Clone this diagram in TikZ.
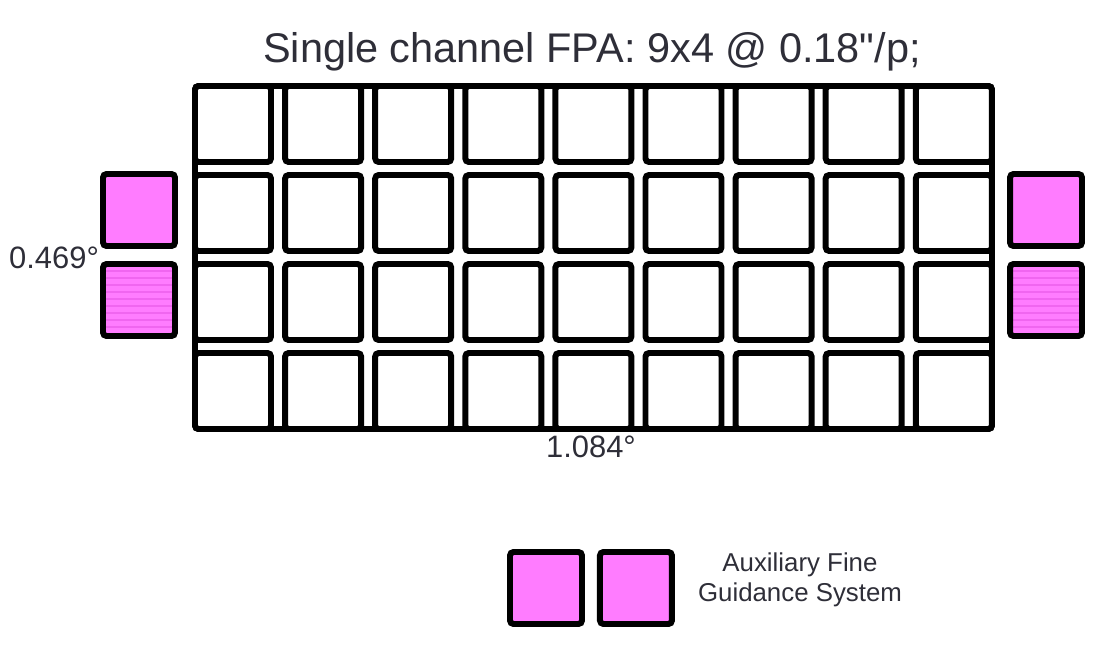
\documentclass[tikz,border=0pt]{standalone}
\usepackage{fontspec}
\setmainfont{Liberation Sans}[Ligatures=TeXOff]
\usetikzlibrary{calc,positioning}
\definecolor{Orchid}{HTML}{FF7CFF}
\definecolor{OrchidLine}{HTML}{F066F0}
\definecolor{Ink}{HTML}{2E2E38}

\begin{document}
\begin{tikzpicture}[x=0.02cm, y=-0.02cm,
    cell/.style={draw=black, line width=3.4pt, rounded corners=2pt, fill=white, inner sep=0pt, minimum size=1.52cm},
    guide/.style={cell, fill=Orchid, minimum size=1.44cm},
    striped/.style={guide, path picture={
        \foreach \k in {1,...,10}
          \draw[OrchidLine, line width=0.6pt] ($(path picture bounding box.north west)+(0,\k*7)$) -- ++(100,0);
      }},
    label/.style={text=Ink, font=\fontsize{17.6}{20}\selectfont, inner sep=1pt}]
    \useasboundingbox (0,0) rectangle (1100,659);
    \node[text=Ink, font=\fontsize{23.6}{27}\selectfont] (title) at (592,52) {Single channel FPA: 9x4 @ 0.18"/p;};
    \draw[line width=3.4pt, rounded corners=2pt] (195,86) rectangle (992,429);
    \foreach \j in {0,...,3}
      \foreach \i in {0,...,8}
        \node[cell] (c-\i-\j) at (233+90.1*\i, 124+89*\j) {};
    \node[guide] (gl1) at (139,210) {};
    \node[striped] (gl2) at (139,300) {};
    \node[guide] (gr1) at (1046,210) {};
    \node[striped] (gr2) at (1046,300) {};
    \node[label, anchor=east] (height) at (101,258) {0.469°};
    \node[label] (width) at (591,447) {1.084°};
    \node[guide] (lg1) at (546,588) {};
    \node[guide, right=0.24cm of lg1] (lg2) {};
    \node[text=Ink, align=center, font=\fontsize{14.7}{17}\selectfont] (lgtxt) at (800,580) {Auxiliary Fine\\Guidance System};
  \end{tikzpicture}
\end{document}
